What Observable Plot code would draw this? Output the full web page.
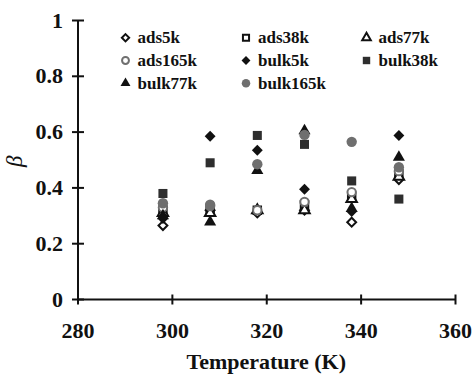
<!DOCTYPE html>
<html>
<head>
<meta charset="utf-8">
<script src="https://cdn.jsdelivr.net/npm/d3@7"></script>
<script src="https://cdn.jsdelivr.net/npm/@observablehq/plot@0.6"></script>
<style>
  body { margin: 0; background: #fff; }
  #chart svg { display: block; }
  #xlabel {
    margin-left: 77.5px;
    width: 377.5px;
    height: 27px;
    line-height: 27px;
    text-align: center;
    font-family: "Liberation Serif", "Times New Roman", serif;
    font-weight: bold;
    font-size: 22px;
    color: #111;
  }
</style>
</head>
<body>
<div id="chart"></div>
<div id="xlabel">Temperature (K)</div>
<script>
// Temperatures (K) at which beta was measured
const temperatures = [298, 308, 318, 328, 338, 348];

// Beta for adsorbed polymer, by molecular weight
const ads5k   = [0.265, 0.32, 0.31, 0.32, 0.277, 0.43];
const ads38k  = [0.32, 0.32, 0.32, 0.34, 0.37, 0.45];
const ads77k  = [0.31, 0.31, 0.32, 0.32, 0.36, 0.44];
const ads165k = [0.33, 0.34, 0.32, 0.35, 0.385, 0.46];

// Beta for bulk polymer, by molecular weight
const bulk5k   = [0.29, 0.585, 0.535, 0.395, 0.315, 0.588];
const bulk38k  = [0.38, 0.49, 0.588, 0.556, 0.425, 0.36];
const bulk77k  = [0.30, 0.278, 0.462, 0.605, 0.326, 0.51];
const bulk165k = [0.345, 0.335, 0.485, 0.59, 0.565, 0.474];

const seriesNames = ["ads5k", "ads38k", "ads77k", "ads165k", "bulk5k", "bulk38k", "bulk77k", "bulk165k"];
const seriesValues = [ads5k, ads38k, ads77k, ads165k, bulk5k, bulk38k, bulk77k, bulk165k];

// Axis ticks
const xTicks = [280, 300, 320, 340, 360];
const xTickLabels = ["280", "300", "320", "340", "360"];
const yTicks = [0, 0.2, 0.4, 0.6, 0.8, 1];
const yTickLabels = ["0", "0.2", "0.4", "0.6", "0.8", "1"];

// Marker style per series
const BLACK = "#111";
const DARK = "#2e2e2e";
const GREY = "#6f6f6f";
const markerStyle = {
  ads5k:    {symbol: "diamond2", fill: "white", stroke: BLACK, strokeWidth: 2, r: 4.0},
  ads38k:   {symbol: "square",   fill: "white", stroke: BLACK, strokeWidth: 2, r: 4.2},
  ads77k:   {symbol: "triangle", fill: "white", stroke: BLACK, strokeWidth: 2, r: 3.9},
  ads165k:  {symbol: "circle",   fill: "white", stroke: GREY,  strokeWidth: 2, r: 4.2},
  bulk5k:   {symbol: "diamond2", fill: BLACK, stroke: "none", r: 4.9},
  bulk38k:  {symbol: "square",   fill: DARK,  stroke: "none", r: 5.1},
  bulk77k:  {symbol: "triangle", fill: BLACK, stroke: "none", r: 4.5},
  bulk165k: {symbol: "circle",   fill: GREY,  stroke: "none", r: 5.2}
};

const rows = seriesNames.flatMap((name, k) =>
  temperatures.map((t, i) => ({series: name, temperature: t, beta: seriesValues[k][i]}))
);

// Short tick strokes crossing the axis lines
const vTick = {draw(ctx) { ctx.moveTo(0, -5); ctx.lineTo(0, 5); }};
const hTick = {draw(ctx) { ctx.moveTo(-6, 0); ctx.lineTo(6, 0); }};

const serif = "Liberation Serif";
const labelFont = {fontSize: 22, fontWeight: "bold", fontFamily: serif, fill: BLACK};

const dataMarks = seriesNames.map(name =>
  Plot.dot(rows.filter(d => d.series === name), {
    x: "temperature", y: "beta", ...markerStyle[name]
  })
);

// Legend: three columns inside the plot area
const legendMarks = seriesNames.flatMap((name, k) => {
  const col = k % 3, row = Math.floor(k / 3);
  const style = markerStyle[name];
  return [
    Plot.dot([name], {
      frameAnchor: "top-left", dx: 47.5 + col * 120.5, dy: 17.3 + row * 22.7,
      ...style, r: style.r * 0.82
    }),
    Plot.text([name], {
      frameAnchor: "top-left", lineAnchor: "middle",
      dx: 59.5 + col * 120.5, dy: 17.3 + row * 22.7,
      text: d => d, textAnchor: "start", fontSize: 17, fontWeight: "bold",
      fontFamily: serif, fill: BLACK
    })
  ];
});

const chart = Plot.plot({
  width: 474,
  height: 348,
  marginLeft: 77.5,
  marginRight: 19,
  marginTop: 20,
  marginBottom: 49,
  style: {background: "#fff", fontFamily: serif},
  x: {domain: [xTicks[0], xTicks[xTicks.length - 1]], axis: null},
  y: {domain: [yTicks[0], yTicks[yTicks.length - 1]], axis: null},
  marks: [
    // axis lines
    Plot.ruleY([yTicks[0]], {x1: xTicks[0], x2: xTicks[xTicks.length - 1], stroke: BLACK, strokeWidth: 2}),
    Plot.ruleX([xTicks[0]], {y1: yTicks[0], y2: yTicks[yTicks.length - 1], stroke: BLACK, strokeWidth: 2}),
    // tick marks
    Plot.dot(xTicks, {x: d => d, y: yTicks[0], symbol: vTick, fill: "none", stroke: BLACK, strokeWidth: 2}),
    Plot.dot(yTicks, {x: xTicks[0], y: d => d, symbol: hTick, fill: "none", stroke: BLACK, strokeWidth: 2}),
    // tick labels
    Plot.text(xTicks, {x: d => d, y: yTicks[0], dy: 31.5, text: (d, i) => xTickLabels[i], ...labelFont}),
    Plot.text(yTicks, {x: xTicks[0], y: d => d, dx: -15, text: (d, i) => yTickLabels[i],
      textAnchor: "end", ...labelFont}),
    // y-axis title
    Plot.text(["β"], {frameAnchor: "left", dx: -63, dy: 7, rotate: -90, text: d => d,
      fontSize: 23, fontStyle: "italic", fontFamily: serif, fill: BLACK}),
    ...dataMarks,
    ...legendMarks
  ]
});

document.getElementById("chart").append(chart);

// Measure every label once so its font face is resolved before the first paint
d3.select(chart).selectAll("text").each(function () {
  getComputedStyle(this).fontWeight;
  this.getBBox();
});
</script>
</body>
</html>
